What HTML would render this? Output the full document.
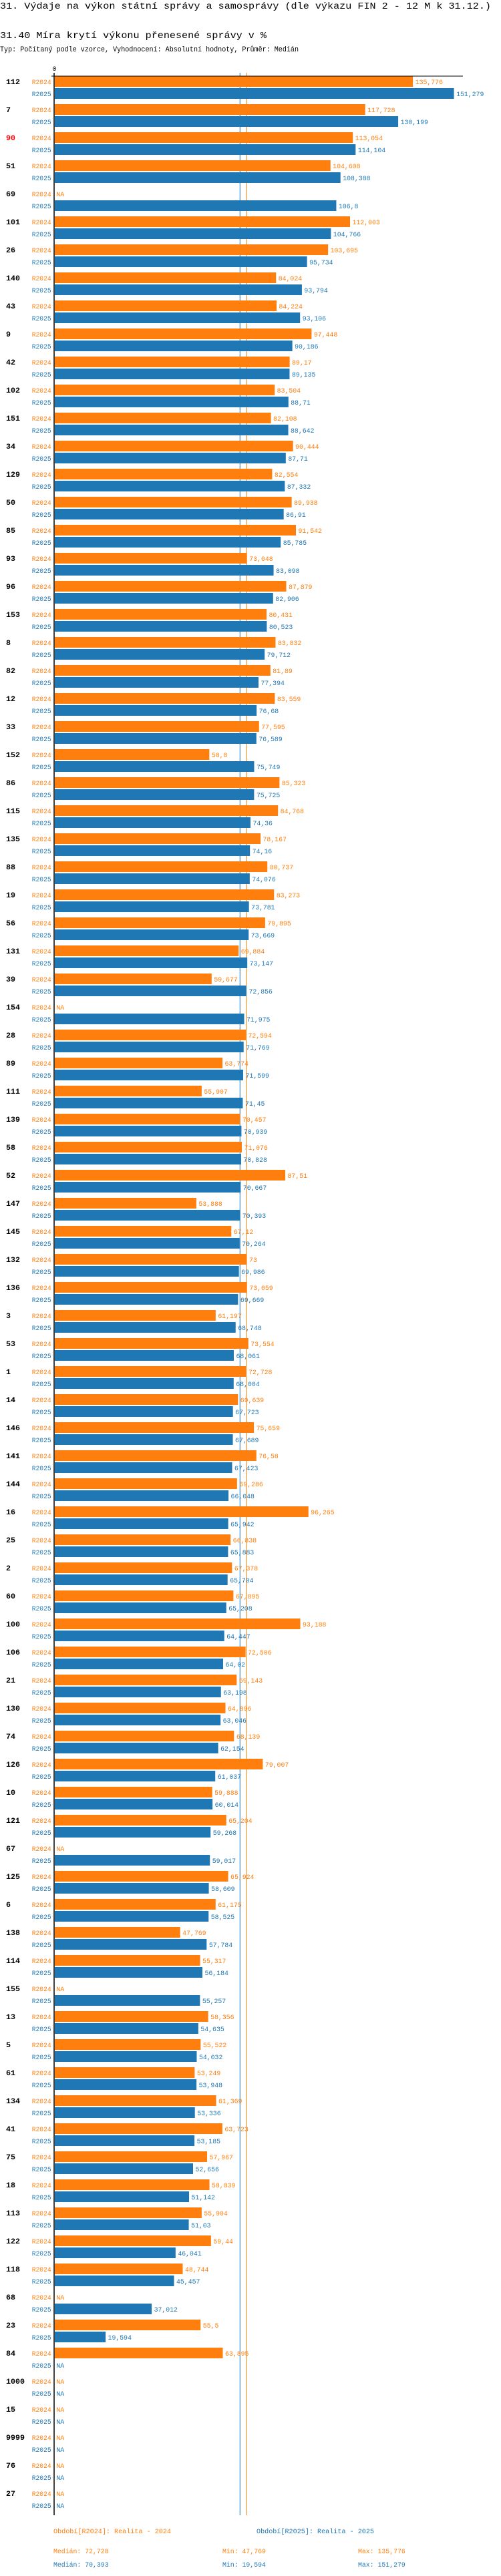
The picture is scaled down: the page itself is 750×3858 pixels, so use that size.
<!DOCTYPE html>
<html><head><meta charset="utf-8">
<style>
html,body{margin:0;padding:0;background:#fff;}
svg{display:block;}
text{font-family:"Liberation Mono",monospace;}
</style></head>
<body>
<svg id="chart" width="750" height="3858" viewBox="0 0 750 3858" xmlns="http://www.w3.org/2000/svg">
<text x="0" y="13" font-size="14" textLength="735" lengthAdjust="spacingAndGlyphs" fill="#000">31. Výdaje na výkon státní správy a samosprávy (dle výkazu FIN 2 - 12 M k 31.12.)</text>
<text x="0" y="57" font-size="14" textLength="399" lengthAdjust="spacingAndGlyphs" fill="#000">31.40 Míra krytí výkonu přenesené správy v %</text>
<text x="0" y="77" font-size="11" textLength="447" lengthAdjust="spacingAndGlyphs" fill="#000">Typ: Počítaný podle vzorce, Vyhodnocení: Absolutní hodnoty, Průměr: Medián</text>
<g id="plot"></g>
</svg>
<script>
const categories = ["112","7","90","51","69","101","26","140","43","9","42","102","151","34","129","50","85","93","96","153","8","82","12","33","152","86","115","135","88","19","56","131","39","154","28","89","111","139","58","52","147","145","132","136","3","53","1","14","146","141","144","16","25","2","60","100","106","21","130","74","126","10","121","67","125","6","138","114","155","13","5","61","134","41","75","18","113","122","118","68","23","84","1000","15","9999","76","27"];
const highlighted = ["90"];
const r2024 = [135.776,117.728,113.054,104.608,null,112.003,103.695,84.024,84.224,97.448,
89.17,83.504,82.108,90.444,82.554,89.938,91.542,73.048,87.879,80.431,
83.832,81.89,83.559,77.595,58.8,85.323,84.768,78.167,80.737,83.273,
79.895,69.884,59.677,null,72.594,63.774,55.907,70.457,71.076,87.51,
53.888,67.12,73,73.059,61.197,73.554,72.728,69.639,75.659,76.58,
69.286,96.265,66.838,67.378,67.895,93.188,72.506,69.143,64.896,68.139,
79.007,59.888,65.204,null,65.924,61.175,47.769,55.317,null,58.356,
55.522,53.249,61.369,63.723,57.967,58.839,55.904,59.44,48.744,null,
55.5,63.895,null,null,null,null,null];
const r2025 = [151.279,130.199,114.104,108.388,106.8,104.766,95.734,93.794,93.106,90.186,
89.135,88.71,88.642,87.71,87.332,86.91,85.785,83.098,82.906,80.523,
79.712,77.394,76.68,76.589,75.749,75.725,74.36,74.16,74.076,73.781,
73.669,73.147,72.856,71.975,71.769,71.599,71.45,70.939,70.828,70.667,
70.393,70.264,69.986,69.669,68.748,68.061,68.004,67.723,67.689,67.423,
66.048,65.942,65.883,65.704,65.208,64.447,64.02,63.198,63.046,62.154,
61.037,60.014,59.268,59.017,58.609,58.525,57.784,56.184,55.257,54.635,
54.032,53.948,53.336,53.185,52.656,51.142,51.03,46.041,45.457,37.012,
19.594,null,null,null,null,null,null];
const seriesNames = ["R2024","R2025"];
const medians = [72.728, 70.393];
const mins = [47.769, 19.594];
const maxs = [135.776, 151.279];
const legendTitles = ["Období[R2024]: Realita - 2024","Období[R2025]: Realita - 2025"];

const ORANGE = "#ff7f0e", BLUE = "#1f77b4";
const colors = [ORANGE, BLUE];
const X0 = 80.5, SCALE = 3.96, TOP = 114, PITCH = 42;
const xScale = v => X0 + v * SCALE;
const fmt = v => String(v).replace('.', ',');
const NS = "http://www.w3.org/2000/svg";
const plot = document.getElementById('plot');
function mk(tag, attrs, txt) {
  const e = document.createElementNS(NS, tag);
  for (const k in attrs) e.setAttribute(k, attrs[k]);
  if (txt !== undefined) e.textContent = txt;
  plot.appendChild(e);
  return e;
}
const bottom = TOP + categories.length * PITCH - 1;

// median lines
medians.forEach((m, i) => {
  const l = mk('line', {x1: xScale(m), x2: xScale(m), y1: 109, y2: bottom, stroke: colors[i], 'stroke-width': 1});
  
  
});

const allSeries = [r2024, r2025];
categories.forEach((c, k) => {
  const yg = TOP + k * PITCH;
  const lab = mk('text', {x: 9, y: yg + 12, 'font-size': 11, 'font-weight': 'bold', fill: highlighted.includes(c) ? '#ff0000' : '#000', textLength: c.length * 7, lengthAdjust: 'spacingAndGlyphs'}, c);
  
  
  allSeries.forEach((s, i) => {
    const y = yg + i * 18;
    const sl = mk('text', {x: 47.7, y: y + 12, 'font-size': 10, fill: colors[i], textLength: 29, lengthAdjust: 'spacingAndGlyphs'}, seriesNames[i]);
    
    
    const v = s[k];
    if (v === null) {
      const na = mk('text', {x: 84.3, y: y + 12, 'font-size': 10, fill: colors[i], textLength: 12, lengthAdjust: 'spacingAndGlyphs'}, 'NA');
      
      
      return;
    }
    const xe = xScale(v);
    const b = mk('rect', {x: 82, y: y, width: Math.max(0, xe - 82), height: 16, fill: colors[i]});
    
    
    const t = fmt(v);
    const vl = mk('text', {x: xe + 3.5, y: y + 12, 'font-size': 10, fill: colors[i], textLength: t.length * 5.9, lengthAdjust: 'spacingAndGlyphs'}, t);
    
    
  });
});

// axes
const ax = mk('line', {x1: 81, x2: 81, y1: 109, y2: bottom, stroke: '#000', 'stroke-width': 1.5});


const axTop = mk('line', {x1: 77, x2: 693, y1: 114, y2: 114, stroke: '#000', 'stroke-width': 1});


const zero = mk('text', {x: 78.5, y: 106, 'font-size': 10, fill: '#000'}, '0');



// legend
const legX = [80, 384];
legendTitles.forEach((t, i) => {
  const e = mk('text', {x: legX[i], y: 3794, 'font-size': 10, fill: colors[i], textLength: 176, lengthAdjust: 'spacingAndGlyphs'}, t);
  
  
});
[0, 1].forEach(i => {
  const y = 3824 + i * 20;
  const a = 'Medián: ' + fmt(medians[i]);
  const b = 'Min: ' + fmt(mins[i]);
  const c = 'Max: ' + fmt(maxs[i]);
  const e1 = mk('text', {x: 80, y: y, 'font-size': 10, fill: colors[i], textLength: a.length * 5.9, lengthAdjust: 'spacingAndGlyphs'}, a);
  
  
  const e2 = mk('text', {x: 333, y: y, 'font-size': 10, fill: colors[i], textLength: b.length * 5.9, lengthAdjust: 'spacingAndGlyphs'}, b);
  
  
  const e3 = mk('text', {x: 536, y: y, 'font-size': 10, fill: colors[i], textLength: c.length * 5.9, lengthAdjust: 'spacingAndGlyphs'}, c);
  
  
});
</script>
</body></html>
